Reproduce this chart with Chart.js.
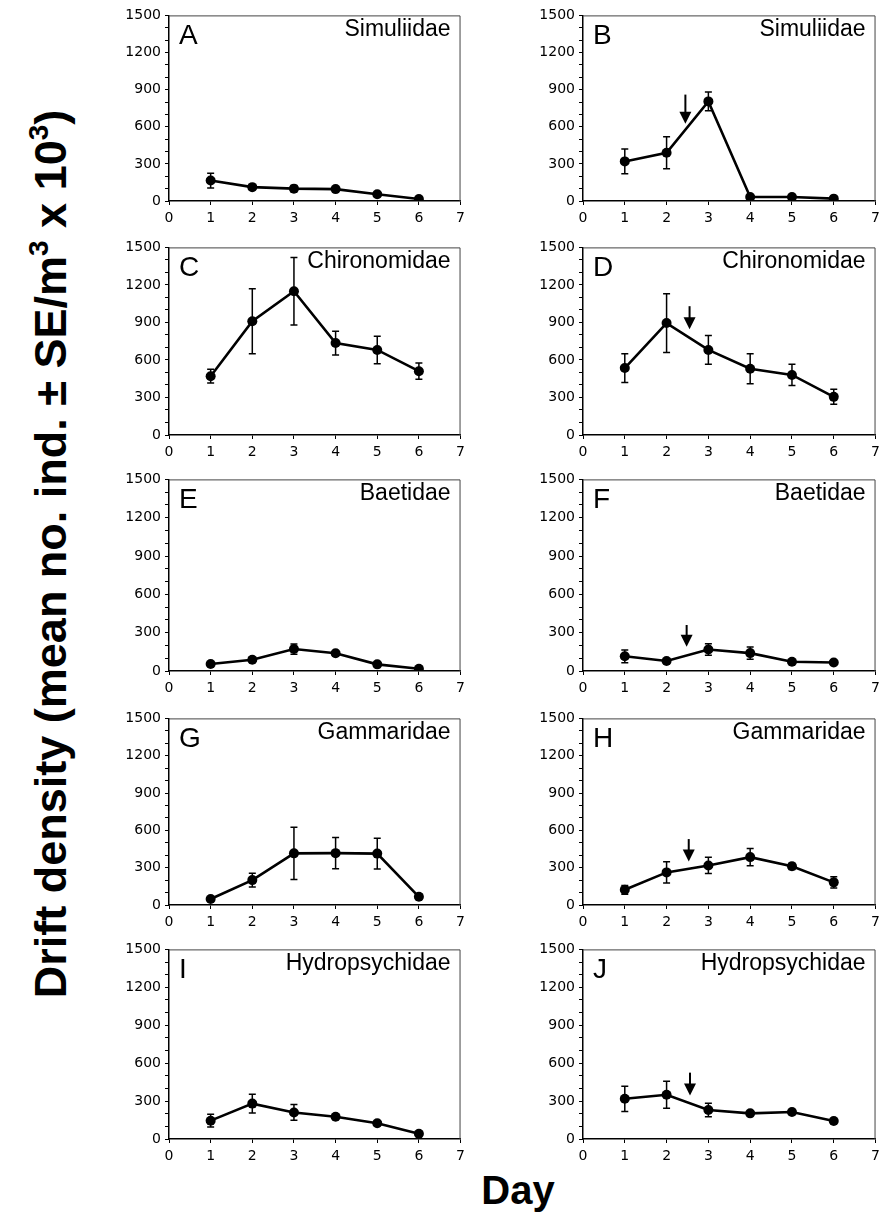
<!DOCTYPE html>
<html>
<head>
<meta charset="utf-8">
<script src="https://cdn.jsdelivr.net/npm/chart.js@4.4.1/dist/chart.umd.min.js"></script>
<style>
  html, body { margin: 0; padding: 0; background: #fff; }
  #page { position: relative; width: 885px; height: 1217px; overflow: hidden; background: #fff; }
  #page canvas { position: absolute; }
  #yTitle {
    position: absolute; left: 50px; top: 554px;
    transform: translate(-50%, -50%) rotate(-90deg);
    white-space: nowrap; line-height: 1;
    font: bold 45px "Liberation Sans", Arial, sans-serif; color: #000;
  }
  #yTitle .sup { font-size: 0.62em; vertical-align: 0.62em; }
  #xTitle {
    position: absolute; left: 518px; top: 1168px;
    transform: translateX(-50%);
    white-space: nowrap; line-height: 1;
    font: bold 40px "Liberation Sans", Arial, sans-serif; color: #000;
  }
</style>
</head>
<body>
<div id="page">
  <div id="yTitle">Drift density (mean no. ind. ± SE/m<span class="sup">3</span> x 10<span class="sup">3</span>)</div>
  <div id="xTitle">Day</div>
</div>
<script>
// sampling days and panel captions
const days = [1, 2, 3, 4, 5, 6];
const panelLetters = ["A", "B", "C", "D", "E", "F", "G", "H", "I", "J"];
const taxa = ["Simuliidae", "Simuliidae", "Chironomidae", "Chironomidae", "Baetidae", "Baetidae",
  "Gammaridae", "Gammaridae", "Hydropsychidae", "Hydropsychidae"];

// mean drift density per day (ind./m3 x 10^3)
const meanA = [165, 112, 100, 96, 55, 16];
const meanB = [320, 390, 805, 32, 32, 19];
const meanC = [470, 910, 1150, 735, 680, 510];
const meanD = [535, 895, 680, 530, 480, 305];
const meanE = [55, 88, 172, 139, 52, 18];
const meanF = [115, 78, 168, 140, 72, 67];
const meanG = [48, 200, 415, 417, 413, 66];
const meanH = [122, 262, 318, 385, 311, 182];
const meanI = [145, 280, 210, 176, 125, 42];
const meanJ = [318, 350, 230, 203, 214, 143];

// standard errors
const seA = [60, 15, 25, 15, 10, 5];
const seB = [100, 130, 75, 8, 8, 5];
const seC = [55, 260, 270, 95, 110, 65];
const seD = [115, 235, 115, 120, 85, 60];
const seE = [10, 20, 40, 20, 10, 5];
const seF = [50, 10, 45, 48, 8, 5];
const seG = [15, 55, 210, 125, 123, 20];
const seH = [35, 85, 65, 70, 25, 45];
const seI = [50, 75, 62, 20, 15, 8];
const seJ = [100, 107, 53, 15, 15, 20];

// disturbance arrows on the right-hand panels (day, tail value, tip value)
const arrowDays = [null, 2.45, null, 2.55, null, 2.48, null, 2.53, null, 2.56];
const arrowTails = [null, 860, null, 1030, null, 360, null, 530, null, 525];
const arrowTips = [null, 625, null, 845, null, 190, null, 350, null, 345];

// axis ticks
const yMax = 1500;
const yStep = 100;
const yLabelEvery = 300;
const xMax = 7;

const means = [meanA, meanB, meanC, meanD, meanE, meanF, meanG, meanH, meanI, meanJ];
const errors = [seA, seB, seC, seD, seE, seF, seG, seH, seI, seJ];

// layout of the plot areas on the page
const columnLeft = [169, 583];
const columnRight = [465, 880];
const rowTop = [13, 245, 477, 716, 947];
const rowBottom = [201, 435, 671, 905, 1139];
const PAD_L = 56, PAD_R = 5, PAD_T = 10, PAD_B = 32;

const tickFont = { family: "'DejaVu Sans', sans-serif", size: 14 };
const page = document.getElementById("page");

const panelDecor = {
  id: "panelDecor",
  beforeDatasetsDraw(chart) {
    const { ctx, scales: { x, y } } = chart;
    const k = chart.options.panelIndex;
    ctx.save();
    ctx.strokeStyle = "#000";
    ctx.lineWidth = 1.5;
    days.forEach((day, i) => {
      const px = x.getPixelForValue(day);
      const hi = y.getPixelForValue(means[k][i] + errors[k][i]);
      const lo = y.getPixelForValue(Math.max(0, means[k][i] - errors[k][i]));
      ctx.beginPath();
      ctx.moveTo(px, hi); ctx.lineTo(px, lo);
      ctx.moveTo(px - 3.5, hi); ctx.lineTo(px + 3.5, hi);
      ctx.moveTo(px - 3.5, lo); ctx.lineTo(px + 3.5, lo);
      ctx.stroke();
    });
    ctx.restore();
  },
  afterDraw(chart) {
    const { ctx, chartArea: area, scales: { x, y } } = chart;
    const k = chart.options.panelIndex;
    ctx.save();
    // faint frame on top and right
    ctx.strokeStyle = "#444";
    ctx.lineWidth = 1;
    ctx.beginPath();
    ctx.moveTo(area.left, area.top + 0.5);
    ctx.lineTo(area.right - 0.5, area.top + 0.5);
    ctx.lineTo(area.right - 0.5, area.bottom);
    ctx.stroke();

    ctx.fillStyle = "#000";
    ctx.textBaseline = "alphabetic";
    ctx.font = "28px 'Liberation Sans', Arial, sans-serif";
    ctx.textAlign = "left";
    ctx.fillText(panelLetters[k], area.left + 10, area.top + 29);
    ctx.font = "23px 'Liberation Sans', Arial, sans-serif";
    ctx.textAlign = "right";
    ctx.fillText(taxa[k], area.right - 10, area.top + 21);

    if (arrowDays[k] !== null) {
      const ax = x.getPixelForValue(arrowDays[k]);
      const tail = y.getPixelForValue(arrowTails[k]);
      const tip = y.getPixelForValue(arrowTips[k]);
      ctx.strokeStyle = "#000";
      ctx.lineWidth = 2;
      ctx.beginPath();
      ctx.moveTo(ax, tail);
      ctx.lineTo(ax, tip - 8);
      ctx.stroke();
      ctx.beginPath();
      ctx.moveTo(ax - 6, tip - 12);
      ctx.lineTo(ax + 6, tip - 12);
      ctx.lineTo(ax, tip);
      ctx.closePath();
      ctx.fill();
    }
    ctx.restore();
  }
};

function buildPanel(k) {
  const col = k % 2;
  const row = Math.floor(k / 2);
  const left = columnLeft[col], right = columnRight[col];
  const top = rowTop[row], bottom = rowBottom[row];

  const canvas = document.createElement("canvas");
  canvas.width = right - left + PAD_L + PAD_R;
  canvas.height = bottom - top + PAD_T + PAD_B;
  canvas.style.left = `${left - PAD_L}px`;
  canvas.style.top = `${top - PAD_T}px`;
  page.appendChild(canvas);

  new Chart(canvas, {
    type: "line",
    data: {
      datasets: [{
        data: days.map((day, i) => ({ x: day, y: means[k][i] })),
        borderColor: "#000",
        borderWidth: 2.6,
        pointRadius: 5,
        pointBackgroundColor: "#000",
        pointBorderWidth: 0,
        tension: 0
      }]
    },
    options: {
      panelIndex: k,
      responsive: false,
      animation: false,
      devicePixelRatio: 1,
      layout: { padding: { top: PAD_T, right: PAD_R, left: 0, bottom: 0 } },
      plugins: { legend: { display: false }, tooltip: { enabled: false } },
      scales: {
        x: {
          type: "linear", min: 0, max: xMax,
          ticks: { stepSize: 1, autoSkip: false, maxRotation: 0, padding: 5, color: "#000", font: tickFont },
          grid: { drawOnChartArea: false, tickLength: 4, color: "#000", lineWidth: 1 },
          border: { color: "#000", width: 1.5 },
          afterFit: (scale) => { scale.height = PAD_B; }
        },
        y: {
          min: 0, max: yMax,
          ticks: {
            stepSize: yStep, autoSkip: false, padding: 4, color: "#000", font: tickFont,
            callback: (value) => (value % yLabelEvery === 0 ? String(value) : "")
          },
          grid: { drawOnChartArea: false, tickLength: 4, color: "#000", lineWidth: 1 },
          border: { color: "#000", width: 1.5 },
          afterFit: (scale) => { scale.width = PAD_L; }
        }
      }
    },
    plugins: [panelDecor]
  });
}

panelLetters.forEach((_, k) => buildPanel(k));
</script>
</body>
</html>
